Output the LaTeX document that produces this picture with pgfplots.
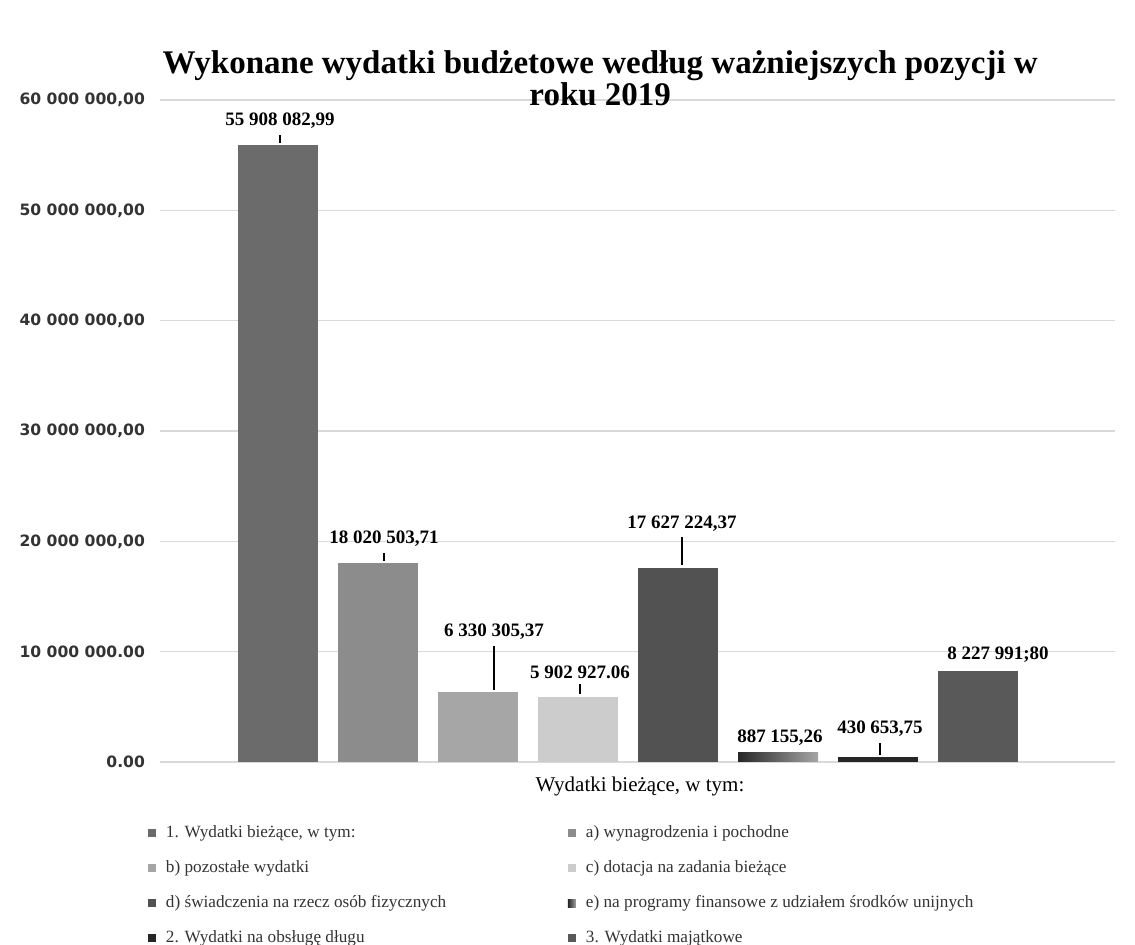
\documentclass[border=0pt]{standalone}
\usepackage{fontspec}
\setmainfont{Liberation Serif}
\newfontfamily\tickfont{DejaVu Sans}
\usepackage{pgfplots}
\pgfplotsset{compat=1.18}

% label with a short leader line down to the bar
\newcommand{\lbl}[2]{\shortstack{#1\\\rule{0.6pt}{#2}}}

\begin{document}
\begin{tikzpicture}
\path[use as bounding box] (-80pt,-91.5pt) rectangle (487.5pt,381pt);
\begin{axis}[
  at={(0,0)}, anchor=south west,
  width=477.5pt, height=331pt, scale only axis,
  ybar=10pt, bar width=40pt,
  xmin=-234, xmax=243.5,
  ymin=0, ymax=60000000,
  xtick={0},
  xticklabel={Wydatki bieżące, w tym:},
  xticklabel style={font=\fontsize{10.5}{12}\selectfont, xshift=6pt, yshift=-4pt},
  ytick={0,10000000,20000000,30000000,40000000,50000000,60000000},
  yticklabels={{0.00},{10 000 000.00},{20 000 000,00},{30 000 000,00},{40 000 000,00},{50 000 000,00},{60 000 000,00}},
  yticklabel style={font=\tickfont\bfseries\fontsize{7.8}{9}\selectfont, text=black!80, xshift=-4pt},
  scaled y ticks=false,
  ymajorgrids,
  grid style={black!15, line width=0.6pt},
  axis line style={draw=none},
  major tick length=0pt,
  title={Wykonane wydatki budżetowe według ważniejszych pozycji w\\roku 2019},
  title style={font=\bfseries\fontsize{16.5}{14.5}\selectfont, align=center,
    at={(0.461,1)}, anchor=south, inner sep=0pt, yshift=-9pt},
  every node near coord/.append style={font=\bfseries\fontsize{9.5}{11}\selectfont,
    anchor=south, inner sep=0pt, text=black},
  every axis plot post/.append style={
    legend image code/.code={\fill[##1] (0pt,-2pt) rectangle (4pt,2pt);}},
  legend columns=2,
  legend style={at={(-0.013,-0.09)}, anchor=north west, draw=none, fill=none,
    font=\fontsize{8.6}{10.5}\selectfont, text=black!80, row sep=6pt, inner sep=0pt,
    /tikz/every odd column/.style={column sep=3pt}},
  legend cell align=left,
]
\addplot[fill=black!58, draw=none,
  nodes near coords={\lbl{55 908 082,99}{4pt}},
  nodes near coords style={xshift=1pt, yshift=1pt}]
  coordinates {(0,55908082.99)};
\addlegendentry{\makebox[199pt][l]{1. Wydatki bieżące, w tym:}}
\addplot[fill=black!45, draw=none,
  nodes near coords={\lbl{18 020 503,71}{4pt}},
  nodes near coords style={xshift=3pt, yshift=1pt}]
  coordinates {(0,18020503.71)};
\addlegendentry{a) wynagrodzenia i pochodne}
\addplot[fill=black!35, draw=none,
  nodes near coords={\lbl{6 330 305,37}{22pt}},
  nodes near coords style={xshift=8pt, yshift=1pt}]
  coordinates {(0,6330305.37)};
\addlegendentry{\makebox[199pt][l]{b) pozostałe wydatki}}
\addplot[fill=black!20, draw=none,
  nodes near coords={\lbl{5 902 927.06}{5pt}},
  nodes near coords style={xshift=1pt, yshift=1pt}]
  coordinates {(0,5902927.06)};
\addlegendentry{c) dotacja na zadania bieżące}
\addplot[fill=black!68, draw=none,
  nodes near coords={\lbl{17 627 224,37}{14pt}},
  nodes near coords style={xshift=2pt, yshift=1pt}]
  coordinates {(0,17627224.37)};
\addlegendentry{\makebox[199pt][l]{d) świadczenia na rzecz osób fizycznych}}
\addplot[left color=black!85, right color=black!35, draw=none,
  nodes near coords={887 155,26},
  nodes near coords style={xshift=1pt, yshift=3pt}]
  coordinates {(0,887155.26)};
\addlegendentry{e) na programy finansowe z udziałem środków unijnych}
\addplot[fill=black!85, draw=none,
  nodes near coords={\lbl{430 653,75}{6pt}},
  nodes near coords style={xshift=1pt, yshift=1pt}]
  coordinates {(0,430653.75)};
\addlegendentry{\makebox[199pt][l]{2. Wydatki na obsługę długu}}
\addplot[fill=black!65, draw=none,
  nodes near coords={8 227 991;80},
  nodes near coords style={xshift=10pt, yshift=4pt}]
  coordinates {(0,8227991.80)};
\addlegendentry{3. Wydatki majątkowe}
\end{axis}
\end{tikzpicture}
\end{document}
